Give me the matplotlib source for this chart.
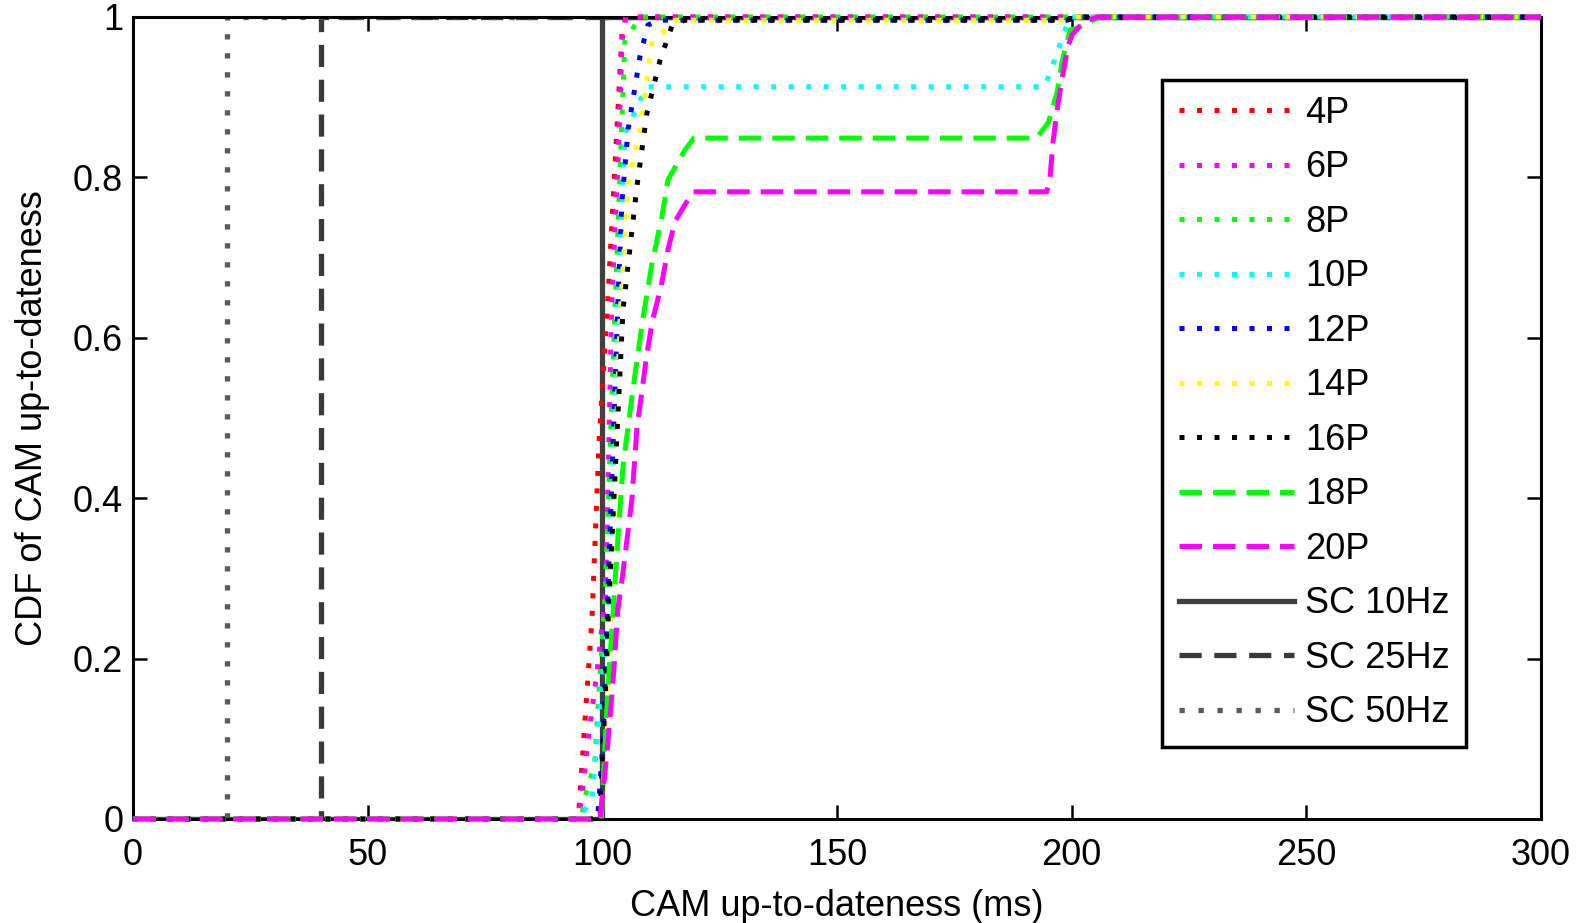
import matplotlib
matplotlib.use("Agg")
import matplotlib.pyplot as plt

plt.rcParams['font.family'] = ['Liberation Sans', 'DejaVu Sans']

# CDF curves (x in ms)
x_4p = [0, 94.5, 95, 97.8, 99.3, 101.2, 104.2, 105, 300]
cdf_4p = [0, 0, 0.01, 0.25, 0.47, 0.65, 0.98, 1, 1]

x_6p = [0, 94.5, 95.5, 97, 99, 100.7, 101.5, 102, 103.5, 104.2, 105, 300]
cdf_6p = [0, 0, 0.02, 0.1, 0.19, 0.28, 0.5, 0.64, 0.84, 0.97, 1, 1]

x_8p = [0, 95.5, 96.3, 97.4, 98.4, 100.6, 102.7, 104.8, 107, 108, 300]
cdf_8p = [0, 0, 0.027, 0.049, 0.071, 0.28, 0.635, 0.97, 0.99, 1, 1]

x_10p = [0, 95, 97.8, 101.6, 103.3, 104.8, 106.4, 108, 109.5, 194.3, 195.4, 196.9, 198.2, 199.7, 300]
cdf_10p = [0, 0, 0.024, 0.28, 0.628, 0.855, 0.874, 0.896, 0.913, 0.913, 0.931, 0.955, 0.978, 1, 1]

x_12p = [0, 99, 100.2, 101.2, 103.3, 104.2, 105.5, 108, 109.7, 112, 199, 201, 300]
cdf_12p = [0, 0, 0.1, 0.28, 0.64, 0.77, 0.86, 0.95, 0.99, 0.996, 0.996, 1, 1]

x_14p = [0, 99.5, 100.6, 102, 103.8, 105.5, 108, 110.6, 112.7, 115.5, 199, 201, 300]
cdf_14p = [0, 0, 0.1, 0.28, 0.63, 0.79, 0.86, 0.97, 0.98, 0.996, 0.996, 1, 1]

x_16p = [0, 99.5, 100.2, 100.6, 101.4, 104.4, 107.4, 109.5, 112.3, 114.9, 117.6, 199, 201, 300]
cdf_16p = [0, 0, 0.1, 0.15, 0.27, 0.635, 0.79, 0.88, 0.946, 0.99, 0.996, 0.996, 1, 1]

x_18p = [0, 99.8, 101.2, 102.3, 103.3, 104.4, 106.3, 108.5, 110.5, 112.7, 114, 117.6, 119.5,
         192.5, 195, 196.9, 198, 199.7, 201.2, 203.9, 206, 300]
cdf_18p = [0, 0, 0.165, 0.257, 0.348, 0.439, 0.526, 0.618, 0.69, 0.751, 0.797, 0.834, 0.849,
           0.849, 0.868, 0.906, 0.946, 0.984, 0.986, 0.994, 1, 1]

x_20p = [0, 99.5, 101, 102.3, 103.3, 104.4, 106.3, 107.4, 108.4, 109.4, 110.7, 112.5, 114,
         115.5, 117, 119.3, 194.7, 195.4, 196, 196.9, 198, 199.2, 200.1, 202.4, 205.4, 300]
cdf_20p = [0, 0, 0.082, 0.173, 0.261, 0.307, 0.398, 0.489, 0.531, 0.576, 0.622, 0.663, 0.71,
           0.745, 0.76, 0.782, 0.782, 0.8, 0.843, 0.884, 0.925, 0.963, 0.978, 0.993, 1, 1]

# single-channel references: deterministic up-to-dateness at 1/f
sc_periods = [100, 40, 20]
sc_labels = ['SC 10Hz', 'SC 25Hz', 'SC 50Hz']

dot = (1.0, 2.5)
dash = (4.5, 2.2)

fig = plt.figure(figsize=(15.77, 9.23), dpi=100)
ax = fig.add_axes([0.0843, 0.1127, 0.9772 - 0.0843, 0.9816 - 0.1127])

lw = 3.6
series = [
    (x_4p, cdf_4p, '#ff0000', dot, '4P'),
    (x_6p, cdf_6p, '#ff00ff', dot, '6P'),
    (x_8p, cdf_8p, '#00ff00', dot, '8P'),
    (x_10p, cdf_10p, '#00ffff', dot, '10P'),
    (x_12p, cdf_12p, '#0000ff', dot, '12P'),
    (x_14p, cdf_14p, '#ffff00', dot, '14P'),
    (x_16p, cdf_16p, '#000000', dot, '16P'),
    (x_18p, cdf_18p, '#00ff00', dash, '18P'),
    (x_20p, cdf_20p, '#ff00ff', dash, '20P'),
]
for xs, ys, c, d, lab in series:
    ax.plot(xs, ys, color=c, lw=lw, dashes=d, label=lab, zorder=3, clip_on=False)

sc_styles = [('#404040', None), ('#3a3a3a', (4.2, 2.4)), ('#5a5a5a', (1.0, 2.6))]
for p, lab, (c, d) in zip(sc_periods, sc_labels, sc_styles):
    line, = ax.plot([0, p, p, 300], [0, 0, 1, 1], color=c, lw=3.8, label=lab, zorder=2)
    if d is not None:
        line.set_dashes(d)

ax.set_xlim(0, 300)
ax.set_ylim(0, 1)
ax.set_xticks([0, 50, 100, 150, 200, 250, 300])
ax.set_yticks([0, 0.2, 0.4, 0.6, 0.8, 1])
ax.set_yticklabels(['0', '0.2', '0.4', '0.6', '0.8', '1'])
ax.tick_params(direction='in', length=10, width=1.8, labelsize=26, top=True, right=True)
ax.tick_params(axis='x', pad=14)
ax.tick_params(axis='y', pad=7)
for s in ax.spines.values():
    s.set_linewidth(2.2)

ax.set_xlabel('CAM up-to-dateness (ms)', fontsize=26)
ax.set_ylabel('CDF of CAM up-to-dateness', fontsize=26)
ax.xaxis.set_label_coords(0.5, -0.087)
ax.yaxis.set_label_coords(-0.059, 0.5)

leg = ax.legend(loc='upper left', bbox_to_anchor=(0.731, 0.922), borderaxespad=0,
                fontsize=26, handlelength=3.2, handletextpad=0.3, labelspacing=0.54,
                borderpad=0.45, fancybox=False, framealpha=1, edgecolor='black')
leg.get_frame().set_linewidth(2.5)

fig.savefig('out.png', dpi=100)
